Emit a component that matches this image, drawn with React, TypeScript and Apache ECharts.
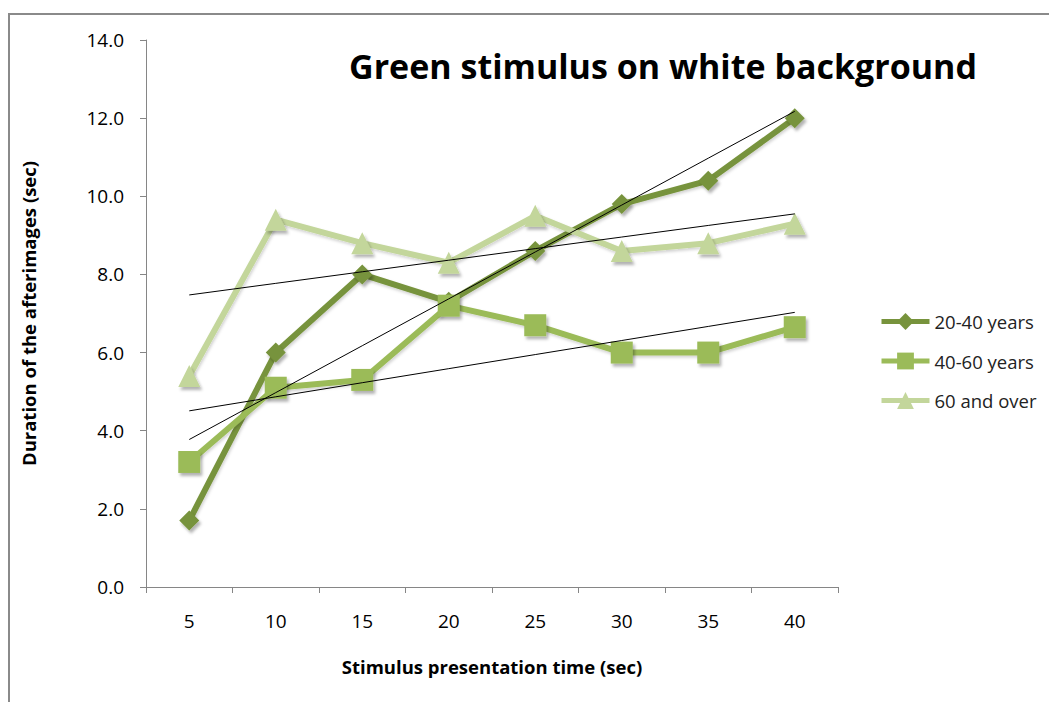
import React, { useEffect, useRef } from "react";
import * as echarts from "echarts";

const categories = ["5", "10", "15", "20", "25", "30", "35", "40"];
const years20to40 = [1.7, 6.0, 8.0, 7.3, 8.6, 9.8, 10.4, 12.0];
const years40to60 = [3.2, 5.1, 5.3, 7.2, 6.7, 6.0, 6.0, 6.65];
const years60plus = [5.4, 9.4, 8.8, 8.3, 9.5, 8.6, 8.8, 9.3];

const seriesNames = ["20-40 years", "40-60 years", "60 and over"];
const seriesColors = ["#77933C", "#9BBB59", "#C3D69B"];
const seriesSymbols = ["diamond", "rect", "triangle"];
const symbolSizes = [20, 22, 22];

// Least-squares linear trend over the category positions
function linearTrend(values: number[]): number[] {
  const n = values.length;
  const xs = values.map((_, i) => i + 1);
  const mx = xs.reduce((a, b) => a + b, 0) / n;
  const my = values.reduce((a, b) => a + b, 0) / n;
  let sxy = 0;
  let sxx = 0;
  for (let i = 0; i < n; i++) {
    sxy += (xs[i] - mx) * (values[i] - my);
    sxx += (xs[i] - mx) * (xs[i] - mx);
  }
  const slope = sxy / sxx;
  return xs.map((x) => my + slope * (x - mx));
}

const FONT = "'Open Sans', 'Noto Sans', sans-serif";

export default function App() {
  const ref = useRef<HTMLDivElement>(null);

  useEffect(() => {
    if (!ref.current) return;
    const chart = echarts.init(ref.current, null, { renderer: "svg" });
    const allData = [years20to40, years40to60, years60plus];

    const dataSeries = allData.map((d, i) => ({
      name: seriesNames[i],
      type: "line",
      data: d,
      symbol: seriesSymbols[i],
      symbolSize: symbolSizes[i],
      lineStyle: {
        color: seriesColors[i],
        width: 6,
        shadowColor: "rgba(0,0,0,0.18)",
        shadowBlur: 3,
        shadowOffsetX: 1,
        shadowOffsetY: 2,
      },
      itemStyle: {
        color: seriesColors[i],
        shadowColor: "rgba(0,0,0,0.3)",
        shadowBlur: 3,
        shadowOffsetX: 2,
        shadowOffsetY: 3,
      },
      z: 2,
    }));

    const trendSeries = allData.map((d, i) => ({
      name: seriesNames[i] + " trend",
      type: "line",
      data: linearTrend(d),
      symbol: "none",
      lineStyle: { color: "#000000", width: 1 },
      z: 5,
      silent: true,
    }));

    chart.setOption({
      animation: false,
      backgroundColor: "#ffffff",
      title: {
        text: "Green stimulus on white background",
        left: 658,
        top: 44,
        textAlign: "center",
        textStyle: {
          fontFamily: FONT,
          fontWeight: "bold",
          fontSize: 34,
          color: "#000000",
        },
      },
      legend: {
        data: seriesNames,
        orient: "vertical",
        left: 874,
        top: 307,
        itemWidth: 48,
        itemHeight: 21,
        itemGap: 20.5,
        lineStyle: { width: 5 },
        itemStyle: { shadowBlur: 0, shadowOffsetX: 0, shadowOffsetY: 0 },
        textStyle: { fontFamily: FONT, fontSize: 18.5, color: "#222222" },
      },
      grid: { left: 146, right: 211, top: 40, bottom: 115 },
      xAxis: {
        type: "category",
        data: categories,
        boundaryGap: true,
        name: "Stimulus presentation time (sec)",
        nameLocation: "middle",
        nameGap: 70,
        nameTextStyle: {
          fontFamily: FONT,
          fontWeight: "bold",
          fontSize: 18.5,
          color: "#000000",
        },
        axisLine: { lineStyle: { color: "#868686", width: 1 } },
        axisTick: { show: true, length: 6, lineStyle: { color: "#868686" } },
        axisLabel: {
          fontFamily: FONT,
          fontSize: 19,
          color: "#000000",
          margin: 24,
        },
      },
      yAxis: {
        type: "value",
        min: 0,
        max: 14,
        interval: 2,
        name: "Duration of the afterimages (sec)",
        nameLocation: "middle",
        nameGap: 108,
        nameTextStyle: {
          fontFamily: FONT,
          fontWeight: "bold",
          fontSize: 18.5,
          color: "#000000",
        },
        axisLine: { show: true, lineStyle: { color: "#868686", width: 1 } },
        axisTick: { show: true, length: 6, lineStyle: { color: "#868686" } },
        splitLine: { show: false },
        axisLabel: {
          fontFamily: FONT,
          fontSize: 19,
          color: "#000000",
          margin: 22,
          formatter: (v: number) => v.toFixed(1),
        },
      },
      graphic: [
        {
          type: "polyline",
          shape: { points: [[9, 702], [9, 14], [1049, 14]] },
          style: { stroke: "#8a8a8a", lineWidth: 2, fill: "none" },
          silent: true,
        },
      ],
      series: [...dataSeries, ...trendSeries],
    });

    return () => chart.dispose();
  }, []);

  return (
    <div
      ref={ref}
      style={{ position: "fixed", left: 0, top: 0, width: 1049, height: 702 }}
    />
  );
}
